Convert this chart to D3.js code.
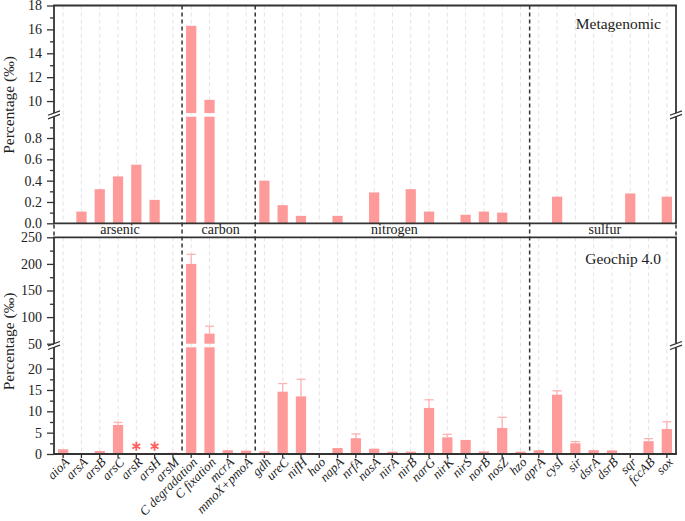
<!DOCTYPE html>
<html><head><meta charset="utf-8">
<script src="https://cdn.jsdelivr.net/npm/d3@7"></script>
<style>body{margin:0;background:#fff}svg{display:block}</style>
</head><body><svg id="c" width="685" height="521"></svg>
<script>
const categories = ["aioA","arsA","arsB","arsC","arsR","arsH","arsM",
  "C degradation","C fixation","mcrA","mmoX+pmoA",
  "gdh","ureC","nifH","hao","napA","nrfA","nasA","nirA","nirB","narG","nirK","nirS","norB","nosZ","hzo",
  "aprA","cysI","sir","dsrA","dsrB","sqr","fccAB","sox"];
const groupNames = ["arsenic","carbon","nitrogen","sulfur"];
const groupSizes = [7,4,15,8];
const metaValues = [0,0.11,0.32,0.44,0.55,0.22,0,
  16.3,10.1,0,0,
  0.40,0.17,0.07,0,0.07,0,0.29,0,0.32,0.11,0,0.08,0.11,0.10,0,
  0,0.25,0,0,0,0.28,0,0.25];
const geoValues = [1.1,0.15,0.7,6.8,0,0,0.3,
  200,69,0.9,0.8,
  0.6,14.6,13.5,0.1,1.4,3.7,1.25,0.55,0.55,10.8,3.9,3.3,0.6,6.1,0.55,
  0.9,13.9,2.5,0.9,0.85,0.1,3.0,5.85];
const geoErrors = [0,0,0,0.6,0,0,0,
  18,14,0,0,
  0,1.9,4.0,0,0,1.0,0,0,0,1.9,0.7,0,0,2.5,0,
  0,0.9,0.4,0,0,0,0.6,1.7];
const geoMissing = ["arsR","arsH"];
const metaTicksLow = [0,0.2,0.4,0.6,0.8];
const metaTicksHigh = [10,12,14,16,18];
const geoTicksLow = [0,5,10,15,20];
const geoTicksHigh = [50,100,150,200,250];
const panelLabels = ["Metagenomic","Geochip 4.0"];
const yTitle = "Percentage (\u2030)";

const svg = d3.select("#c");
const L = 54, R = 676;
const serif = "'Liberation Serif','Times New Roman',serif";
const barColor = "#ff9a9a", errColor = "#ffb2b2", axisColor = "#333";

const x = d3.scaleBand().domain(categories).range([L, R]).paddingInner(0.44).paddingOuter(0.22);
const cx = d => x(d) + x.bandwidth() / 2;

const panels = [
  { values: metaValues, errors: null, top: 5.5, bottom: 223.3,
    low: d3.scaleLinear().domain([0, 1]).range([223.3, 116.7]),
    high: d3.scaleLinear().domain([9, 18]).range([113, 5.5]),
    lowTicks: metaTicksLow, lowMinor: d3.range(0.1, 1.0, 0.2),
    highTicks: metaTicksHigh, highMinor: [11, 13, 15, 17],
    fmt: d3.format(".1f"), label: panelLabels[0], labelY: 29, titleY: 105 },
  { values: geoValues, errors: geoErrors, top: 237.3, bottom: 454,
    low: d3.scaleLinear().domain([0, 25]).range([454, 347.3]),
    high: d3.scaleLinear().domain([50, 250]).range([343.7, 237.3]),
    lowTicks: geoTicksLow, lowMinor: d3.range(2.5, 25, 5),
    highTicks: geoTicksHigh, highMinor: d3.range(75, 250, 50),
    fmt: d3.format("d"), label: panelLabels[1], labelY: 264, titleY: 341.5 }
];

// group boundaries
const half = (x.step() - x.bandwidth()) / 2;
let idx = 0;
const groups = groupNames.map((n, i) => {
  const s = idx; idx += groupSizes[i];
  const x0 = x(categories[s]) - half;
  const x1 = x(categories[idx - 1]) + x.bandwidth() + half;
  return { name: n, x0, x1 };
});

panels.forEach(p => {
  const g = svg.append("g");
  const lowMax = p.low.domain()[1], highMin = p.high.domain()[0];
  // grid
  g.selectAll(".grid").data(categories).join("line")
    .attr("x1", cx).attr("x2", cx).attr("y1", p.top).attr("y2", p.bottom)
    .attr("stroke", "#dcdcdc").attr("stroke-width", 0.8).attr("stroke-dasharray", "4,3");
  // bars
  const data = categories.map((c, i) => ({ c, v: p.values[i], e: p.errors ? p.errors[i] : 0 }));
  data.forEach(d => {
    if (d.v <= 0) return;
    if (d.v <= lowMax) {
      g.append("rect").attr("x", x(d.c)).attr("width", x.bandwidth())
        .attr("y", p.low(d.v)).attr("height", p.low(0) - p.low(d.v)).attr("fill", barColor);
    } else {
      g.append("rect").attr("x", x(d.c)).attr("width", x.bandwidth())
        .attr("y", p.low(lowMax)).attr("height", p.low(0) - p.low(lowMax)).attr("fill", barColor);
      g.append("rect").attr("x", x(d.c)).attr("width", x.bandwidth())
        .attr("y", p.high(d.v)).attr("height", p.high(highMin) - p.high(d.v)).attr("fill", barColor);
    }
    if (d.e > 0) {
      const sc = d.v > lowMax ? p.high : p.low;
      const y0 = sc(d.v), y1 = sc(d.v + d.e);
      g.append("line").attr("x1", cx(d.c)).attr("x2", cx(d.c)).attr("y1", y0).attr("y2", y1)
        .attr("stroke", errColor).attr("stroke-width", 1.3);
      g.append("line").attr("x1", cx(d.c) - 4.5).attr("x2", cx(d.c) + 4.5).attr("y1", y1).attr("y2", y1)
        .attr("stroke", errColor).attr("stroke-width", 1.3);
    }
  });
  // left axis ticks
  const axStyle = sel => {
    sel.select(".domain").remove();
    sel.selectAll(".tick line").attr("stroke", axisColor).attr("stroke-width", 1.3);
    sel.selectAll(".tick text").attr("font-family", serif).attr("font-size", 14).attr("fill", "#222");
  };
  g.append("g").attr("transform", `translate(${L},0)`)
    .call(d3.axisLeft(p.low).tickValues(p.lowTicks).tickSize(7).tickPadding(5).tickFormat(p.fmt)).call(axStyle);
  g.append("g").attr("transform", `translate(${L},0)`)
    .call(d3.axisLeft(p.low).tickValues(p.lowMinor).tickSize(4).tickFormat("")).call(axStyle);
  g.append("g").attr("transform", `translate(${L},0)`)
    .call(d3.axisLeft(p.high).tickValues(p.highTicks).tickSize(7).tickPadding(5).tickFormat(d3.format("d"))).call(axStyle);
  g.append("g").attr("transform", `translate(${L},0)`)
    .call(d3.axisLeft(p.high).tickValues(p.highMinor).tickSize(4).tickFormat("")).call(axStyle);
  // axis lines with break
  const yLowTop = p.low(lowMax), yHighBot = p.high(highMin);
  [L, R].forEach(xx => {
    g.append("line").attr("x1", xx).attr("x2", xx).attr("y1", p.bottom).attr("y2", yLowTop)
      .attr("stroke", axisColor).attr("stroke-width", 1.8);
    g.append("line").attr("x1", xx).attr("x2", xx).attr("y1", yHighBot).attr("y2", p.top)
      .attr("stroke", axisColor).attr("stroke-width", 1.8);
    const yb = (yLowTop + yHighBot) / 2;
    [-1.8, 1.8].forEach(o => {
      g.append("line").attr("x1", xx - 6).attr("x2", xx + 6)
        .attr("y1", yb + o + 2.2).attr("y2", yb + o - 2.2)
        .attr("stroke", axisColor).attr("stroke-width", 1.3);
    });
  });
  // top and bottom lines
  [p.top, p.bottom].forEach(yy => {
    g.append("line").attr("x1", L - 0.9).attr("x2", R + 0.9).attr("y1", yy).attr("y2", yy)
      .attr("stroke", axisColor).attr("stroke-width", 1.8);
  });
  // panel label
  g.append("text").attr("x", 661).attr("y", p.labelY).attr("text-anchor", "end")
    .attr("font-family", serif).attr("font-size", 15.5).attr("fill", "#222").text(p.label);
  // y title
  g.append("text").attr("transform", `translate(13.5,${p.titleY}) rotate(-90)`).attr("text-anchor", "middle")
    .attr("font-family", serif).attr("font-size", 15.5).attr("fill", "#222").text(yTitle);
});

// dividers
groups.slice(1).forEach(gr => {
  svg.append("line").attr("x1", gr.x0).attr("x2", gr.x0).attr("y1", 5.5).attr("y2", 454)
    .attr("stroke", axisColor).attr("stroke-width", 1.5).attr("stroke-dasharray", "4,3");
});
// band sides
[L, R].forEach(xx => {
  svg.append("line").attr("x1", xx).attr("x2", xx).attr("y1", 224.5).attr("y2", 236)
    .attr("stroke", axisColor).attr("stroke-width", 1.5).attr("stroke-dasharray", "4,3");
});
// band labels
svg.selectAll(".glab").data(groups).join("text")
  .attr("x", d => (d.x0 + d.x1) / 2 + 2).attr("y", 234).attr("text-anchor", "middle")
  .attr("font-family", serif).attr("font-size", 14).attr("fill", "#222").text(d => d.name);

// bottom x axis ticks and labels
const xa = svg.append("g").attr("transform", "translate(0,454)")
  .call(d3.axisBottom(x).tickSize(4).tickFormat(""));
xa.select(".domain").remove();
xa.selectAll(".tick line").attr("stroke", axisColor).attr("stroke-width", 1.3);
svg.selectAll(".xlab").data(categories).join("text")
  .attr("transform", d => `translate(${cx(d) + 7},${463}) rotate(-45)`)
  .attr("text-anchor", "end").attr("font-family", serif).attr("font-style", "italic")
  .attr("font-size", 13).attr("fill", "#222").text(d => d);

// asterisks for missing
const yLow2 = panels[1].low;
geoMissing.forEach(c => {
  const x0 = cx(c), y0 = yLow2(1.8);
  const r = 4.5;
  const path = d3.path();
  [90, 30, 150].forEach(a => {
    const rad = a * Math.PI / 180;
    path.moveTo(x0 - r * Math.cos(rad), y0 - r * Math.sin(rad));
    path.lineTo(x0 + r * Math.cos(rad), y0 + r * Math.sin(rad));
  });
  svg.append("path").attr("d", path.toString()).attr("stroke", "#ff6060").attr("stroke-width", 1.8).attr("fill", "none");
});
</script></body></html>
